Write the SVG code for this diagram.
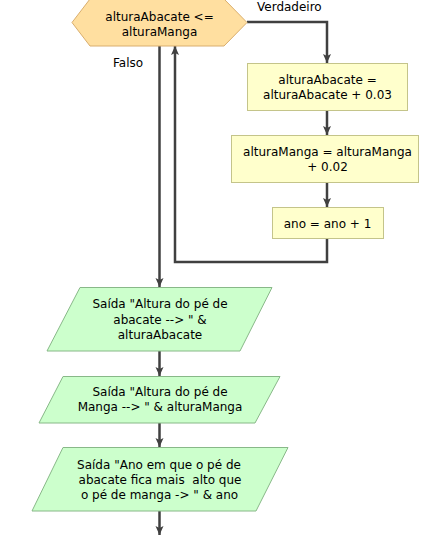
<svg xmlns="http://www.w3.org/2000/svg" width="430" height="535" viewBox="0 0 430 535">
<style>
text{font-family:"DejaVu Sans","Liberation Sans",Arial,sans-serif;font-size:12px;fill:#000;text-anchor:middle}
.dec{fill:#FFDFA0;stroke:#D9AE6E;stroke-width:1}
.proc{fill:#FFFFCC;stroke:#C4C48A;stroke-width:1}
.out{fill:#CCFFCC;stroke:#88B888;stroke-width:1}
.ln{fill:none;stroke:#404040;stroke-width:2.5}
.lbl{text-anchor:start}
</style>
<defs>
<marker id="ah" markerUnits="userSpaceOnUse" markerWidth="10" markerHeight="10" refX="9" refY="4" orient="auto" viewBox="0 0 10 8">
<path d="M0,0 L9,4 L0,8 L2,4 z" fill="#404040"/>
</marker>
</defs>
<g id="connectors">
<polyline class="ln" points="247,22 327,22 327,63" marker-end="url(#ah)"/>
<line class="ln" x1="327" y1="111" x2="327" y2="135" marker-end="url(#ah)"/>
<line class="ln" x1="327" y1="183" x2="327" y2="207" marker-end="url(#ah)"/>
<polyline class="ln" points="327,239 327,262 175,262 175,46" marker-end="url(#ah)"/>
<line class="ln" x1="159.5" y1="46" x2="159.5" y2="287" marker-end="url(#ah)"/>
<line class="ln" x1="159.5" y1="351" x2="159.5" y2="376" marker-end="url(#ah)"/>
<line class="ln" x1="159.5" y1="423" x2="159.5" y2="447" marker-end="url(#ah)"/>
<line class="ln" x1="159.5" y1="511" x2="159.5" y2="535" marker-end="url(#ah)"/>
<text class="lbl" x="257" y="11">Verdadeiro</text>
<text class="lbl" x="113" y="67">Falso</text>
</g>
<g id="decision">
<polygon class="dec" points="72,22.5 90,-1 224,-1 247,22.5 224,46 90,46"/>
<text x="159.5" y="20.5">alturaAbacate &lt;=</text>
<text x="159.5" y="35.5">alturaManga</text>
</g>
<g id="proc1">
<rect class="proc" x="247.5" y="63.5" width="160" height="47"/>
<text x="327.5" y="83.5">alturaAbacate =</text>
<text x="327.5" y="98.5">alturaAbacate + 0.03</text>
</g>
<g id="proc2">
<rect class="proc" x="231.5" y="135.5" width="187" height="47"/>
<text x="327.5" y="156">alturaManga = alturaManga</text>
<text x="327.5" y="171">+ 0.02</text>
</g>
<g id="proc3">
<rect class="proc" x="272.5" y="207.5" width="111" height="31"/>
<text x="327.5" y="227.5">ano = ano + 1</text>
</g>
<g id="out1">
<polygon class="out" points="80,287.5 272,287.5 240,351 47,351"/>
<text x="160" y="308">Saída "Altura do pé de</text>
<text x="160" y="323.5">abacate --&gt; " &amp;</text>
<text x="160" y="339">alturaAbacate</text>
</g>
<g id="out2">
<polygon class="out" points="63,376.5 280,376.5 255,423 39,423"/>
<text x="160" y="395.5">Saída "Altura do pé de</text>
<text x="160" y="410.5">Manga --&gt; " &amp; alturaManga</text>
</g>
<g id="out3">
<polygon class="out" points="63,447.5 288,447.5 256,511 32,511"/>
<text x="159" y="468.5">Saída "Ano em que o pé de</text>
<text x="160" y="483.5" xml:space="preserve">abacate fica mais  alto que</text>
<text x="159.5" y="498.5">o pé de manga -&gt; " &amp; ano</text>
</g>
</svg>
